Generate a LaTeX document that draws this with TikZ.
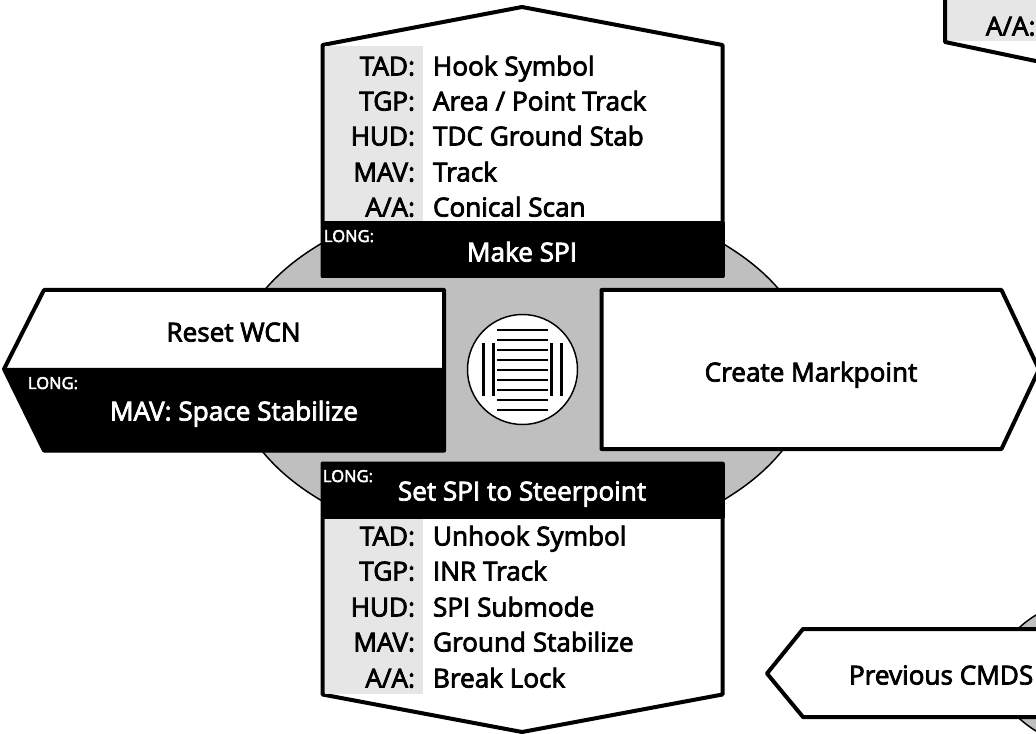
\documentclass[tikz,border=0pt]{standalone}
\usepackage{fontspec}
\setmainfont{Open Sans}[FakeBold=3]
\definecolor{ringgray}{HTML}{BFBFBF}
\definecolor{labelgray}{HTML}{E6E6E6}
\tikzset{
  x=0.75pt,y=-0.75pt,
  ring/.style={draw=black,line width=1.1pt,fill=ringgray},
  panel/.style={draw=black,line width=3pt,line join=round,fill=white},
  band/.style={draw=black,line width=3pt,line join=round,fill=black},
  labelcol/.style={fill=labelgray,draw=none},
  tx/.style={inner sep=0pt,outer sep=0pt,font=\fontsize{19.6}{22}\selectfont,text=black},
  keytx/.style={tx,anchor=base east},
  valtx/.style={tx,anchor=base west},
  headtx/.style={tx,anchor=base,text=white},
  longtx/.style={inner sep=0pt,outer sep=0pt,anchor=base west,text=white,font=\fontsize{12.4}{14}\selectfont},
  midtx/.style={tx,anchor=base},
  grille/.style={draw=black,line width=2.2pt},
}
\begin{document}
\begin{tikzpicture}
\useasboundingbox (0,0) rectangle (1036,734);
\begin{scope}
\clip (0,0) rectangle (1036,734);
% grey rings
\draw[ring] (522,372) ellipse [x radius=290*0.75pt,y radius=178*0.75pt];
\draw[ring] (1130,673) ellipse [x radius=133*0.75pt,y radius=82*0.75pt];
% top panel
\draw[panel] (322.5,45) -- (522,7) -- (722.5,45) -- (722.5,276) -- (322.5,276) -- cycle;
\fill[labelcol] (324.5,46) rectangle (423,222);
\draw[band] (322.5,223.5) rectangle (722.5,276);
\node[keytx] (tk1) at (415,75.5) {TAD:};
\node[keytx] (tk2) at (415,110.5) {TGP:};
\node[keytx] (tk3) at (415,145.5) {HUD:};
\node[keytx] (tk4) at (415,181.5) {MAV:};
\node[keytx] (tk5) at (415,216.5) {A/A:};
\node[valtx] (tv1) at (433,75.5) {Hook Symbol};
\node[valtx] (tv2) at (433,110.5) {Area / Point Track};
\node[valtx] (tv3) at (433,145.5) {TDC Ground Stab};
\node[valtx] (tv4) at (433,181.5) {Track};
\node[valtx] (tv5) at (433,216.5) {Conical Scan};
\node[longtx] (tl) at (324,242) {LONG:};
\node[headtx] (th) at (522,261.5) {Make SPI};
% left panel
\draw[panel] (44,290) -- (444,290) -- (444,450.5) -- (44,450.5) -- (4,369) -- cycle;
\fill[black] (3,368) -- (445.5,368) -- (445.5,452) -- (43,452) -- cycle;
\node[midtx] (lt) at (233.5,341.5) {Reset WCN};
\node[longtx] (ll) at (28,389) {LONG:};
\node[headtx] (lh) at (234,420.5) {MAV: Space Stabilize};
% right panel
\draw[panel] (601.5,290) -- (1001.5,290) -- (1039,369.5) -- (1001.5,449) -- (601.5,449) -- cycle;
\node[midtx] (rt) at (811,381.5) {Create Markpoint};
% bottom panel
\draw[panel] (322.5,463.5) -- (722.5,463.5) -- (722.5,694.5) -- (522,732) -- (322.5,694.5) -- cycle;
\fill[labelcol] (324.5,518) rectangle (423,694);
\draw[band] (322.5,463.5) rectangle (722.5,516.5);
\node[longtx] (bl) at (323,482) {LONG:};
\node[headtx] (bh) at (522,500.5) {Set SPI to Steerpoint};
\node[keytx] (bk1) at (415,545.5) {TAD:};
\node[keytx] (bk2) at (415,580.5) {TGP:};
\node[keytx] (bk3) at (415,616.5) {HUD:};
\node[keytx] (bk4) at (415,651.5) {MAV:};
\node[keytx] (bk5) at (415,687.5) {A/A:};
\node[valtx] (bv1) at (433,545.5) {Unhook Symbol};
\node[valtx] (bv2) at (433,580.5) {INR Track};
\node[valtx] (bv3) at (433,616.5) {SPI Submode};
\node[valtx] (bv4) at (433,651.5) {Ground Stabilize};
\node[valtx] (bv5) at (433,687.5) {Break Lock};
% centre grille
\draw[draw=black,line width=1.1pt,fill=white] (522.5,369.5) circle [radius=55*0.75pt];
\foreach \yy in {330,340,...,410} \draw[grille] (497,\yy) -- (548,\yy);
\foreach \xx in {483.5,493.5,551.5,561.5} \draw[grille] (\xx,343.5) -- (\xx,396);
% previous CMDS panel
\draw[panel] (1050,629) -- (803,629) -- (767,673.5) -- (803,717) -- (1050,717);
\node[valtx] (pc) at (849,684.5) {Previous CMDS};
% top-right corner panel
\fill[labelcol] (947,-5) rectangle (1040,41);
\draw[draw=black,line width=3pt,line join=round] (945,-5) -- (945,42) -- (1050,64);
\node[keytx] (ca) at (1035.5,35.5) {A/A:};
\end{scope}
\end{tikzpicture}
\end{document}
